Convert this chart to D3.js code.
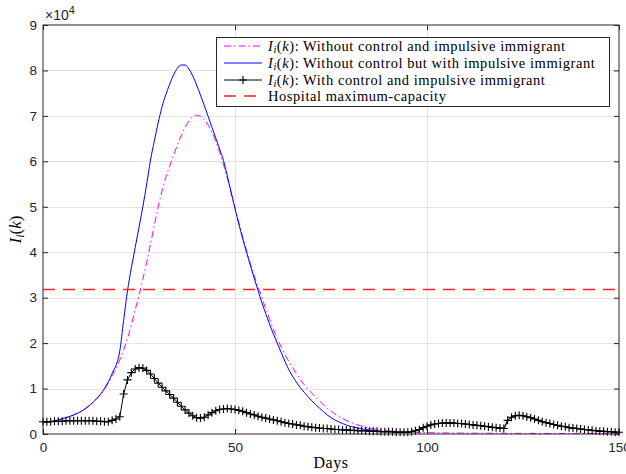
<!DOCTYPE html>
<html>
<head>
<meta charset="utf-8">
<script src="https://cdn.jsdelivr.net/npm/d3@7"></script>
<style>
  body { margin: 0; background: #fff; }
  svg { display: block; }
</style>
</head>
<body>
<svg width="626" height="474"></svg>
<script>
// axis ticks
const xTicks = [0, 50, 100, 150];
const yTicks = [0, 10000, 20000, 30000, 40000, 50000, 60000, 70000, 80000, 90000];

// hospital capacity
const capacity = 31800;

// I_i(k) with control and impulsive immigrant, one value per day 0..150
const controlValues = [
  2700, 2700, 2700, 2800, 2800, 2800, 2900, 2900, 2900, 2900,
  2900, 2900, 2900, 2900, 2800, 2800, 2700, 2700, 3000, 3300,
  3800, 8800, 11900, 13500, 14300, 14600, 14500, 14000, 13200, 12200,
  11200, 10300, 9500, 8700, 7900, 7000, 6100, 5300, 4600, 4000,
  3600, 3500, 3700, 4200, 4700, 5100, 5400, 5500, 5600, 5500,
  5400, 5200, 5000, 4700, 4400, 4200, 3900, 3700, 3500, 3300,
  3100, 2900, 2700, 2500, 2300, 2200, 2000, 1900, 1700, 1600,
  1500, 1400, 1300, 1200, 1200, 1100, 1000, 1000, 900, 900,
  800, 800, 700, 700, 700, 600, 600, 600, 500, 500,
  500, 500, 400, 400, 400, 400, 500, 700, 1000, 1400,
  1700, 2000, 2200, 2300, 2400, 2400, 2400, 2400, 2300, 2300,
  2200, 2100, 2000, 1900, 1800, 1700, 1600, 1500, 1400, 1300,
  1200, 3000, 3700, 4000, 4100, 4000, 3800, 3600, 3300, 3000,
  2700, 2500, 2300, 2100, 1900, 1700, 1600, 1400, 1300, 1200,
  1100, 1000, 900, 800, 700, 600, 600, 500, 500, 400,
  400
];

// I_i(k) without control but with impulsive immigrant
const impulseDays = [
  0, 2, 4, 6, 8, 10, 12, 14, 16, 18, 20, 21, 22, 23, 24, 25, 26, 27, 28, 29,
  30, 31, 32, 33, 34, 35, 36, 37, 38, 39, 40, 41, 42, 43, 44, 45, 46, 47, 48, 49,
  50, 51, 52, 53, 54, 55, 56, 57, 58, 59, 60, 61, 62, 63, 64, 65, 66, 67, 68, 69,
  70, 72, 74, 76, 78, 80, 82, 85, 88, 90, 93, 95, 96, 98, 100, 102, 104, 106, 108, 110,
  112, 114, 116, 118, 120, 121, 122, 124, 126, 128, 130, 132, 134, 136, 138, 140, 143, 146, 150
];
const impulseValues = [
  2500, 2700, 3100, 3600, 4200, 5000, 6200, 7800, 10000, 13300, 18300, 25000, 31500, 36500, 41000, 45500, 50000, 55000, 60300, 64500,
  68500, 72000, 74700, 77000, 79000, 80500, 81200, 81200, 80300, 78800, 76800, 74600, 72300, 69900, 67500, 65100, 62700, 60200, 56800, 53200,
  49600, 46200, 43000, 40000, 37100, 34300, 31600, 28900, 26500, 24200, 22000, 20000, 18000, 16000, 14200, 12700, 11400, 10200, 9200, 8200,
  7300, 5700, 4200, 3100, 2300, 1700, 1300, 900, 600, 500, 400, 400, 500, 1000, 1700, 2200, 2400, 2400, 2300, 2200,
  2000, 1800, 1600, 1400, 1200, 3000, 3700, 4100, 3800, 3300, 2700, 2300, 1900, 1600, 1300, 1100, 800, 600, 400
];

// I_i(k) without control and impulsive immigrant
const noControlDays = [
  0, 2, 4, 6, 8, 10, 12, 14, 16, 17, 18, 19, 20, 21, 22, 23, 24, 25, 26, 27,
  28, 29, 30, 31, 32, 33, 34, 35, 36, 37, 38, 39, 40, 41, 42, 43, 44, 45, 46, 47,
  48, 49, 50, 51, 52, 53, 54, 55, 56, 57, 58, 59, 60, 61, 62, 63, 64, 65, 66, 67,
  68, 69, 70, 72, 74, 76, 78, 80, 82, 85, 88, 90, 93, 96, 100, 110, 120, 150
];
const noControlValues = [
  2500, 2700, 3100, 3600, 4200, 5000, 6200, 7800, 9800, 11200, 12800, 14400, 16300, 18500, 21000, 24000, 27300, 30500, 34000, 37800,
  41800, 46000, 50000, 53500, 56500, 59000, 61300, 63600, 65700, 67500, 68900, 69800, 70100, 69900, 69200, 68000, 66400, 64400, 62000, 59300,
  56300, 53000, 49700, 46500, 43400, 40400, 37500, 34800, 32400, 30000, 27600, 25300, 23100, 21000, 19200, 17500, 16000, 14600, 13300, 12000,
  10900, 9900, 9000, 7300, 5700, 4400, 3400, 2600, 2000, 1300, 900, 700, 500, 400, 300, 200, 150, 100
];

const legendLabels = [
  "Without control and impulsive immigrant",
  "Without control but with impulsive immigrant",
  "With control and impulsive immigrant",
  "Hospital maximum-capacity"
];

const width = 626, height = 474;
const margin = {top: 25, right: 7, bottom: 40, left: 43};
const axisColor = "#262626";

const svg = d3.select("svg");

const x = d3.scaleLinear().domain([0, 150]).range([margin.left, width - margin.right]);
const y = d3.scaleLinear().domain([0, 90000]).range([height - margin.bottom, margin.top]);

// grid
const grid = svg.append("g").attr("class", "grid").attr("stroke", "#e3e3e3").attr("stroke-width", 1);
grid.selectAll(".gh")
  .data(yTicks.slice(1, -1))
  .join("line")
  .attr("class", "gh")
  .attr("x1", x(0)).attr("x2", x(150))
  .attr("y1", d => Math.round(y(d)) + 0.5).attr("y2", d => Math.round(y(d)) + 0.5);
grid.selectAll(".gv")
  .data(xTicks.slice(1, -1))
  .join("line")
  .attr("class", "gv")
  .attr("y1", y(0)).attr("y2", y(90000))
  .attr("x1", d => Math.round(x(d)) + 0.5).attr("x2", d => Math.round(x(d)) + 0.5);

// series
const lineGen = d3.line().x(d => x(d[0])).y(d => y(d[1]));

const noControl = noControlDays.map((d, i) => [d, noControlValues[i]]);
const impulse = impulseDays.map((d, i) => [d, impulseValues[i]]);
const control = controlValues.map((v, i) => [i, v]);

svg.append("path")
  .datum(noControl)
  .attr("fill", "none")
  .attr("stroke", "#ff00ff")
  .attr("stroke-width", 1)
  .attr("stroke-dasharray", "7,3,1.5,3")
  .attr("d", lineGen.curve(d3.curveMonotoneX));

svg.append("path")
  .datum(impulse)
  .attr("fill", "none")
  .attr("stroke", "#0000ff")
  .attr("stroke-width", 1)
  .attr("d", lineGen.curve(d3.curveMonotoneX));

svg.append("path")
  .datum(control)
  .attr("fill", "none")
  .attr("stroke", "#000")
  .attr("stroke-width", 1)
  .attr("d", lineGen.curve(d3.curveLinear));

svg.append("g")
  .attr("stroke", "#000")
  .attr("stroke-width", 1.1)
  .selectAll("path")
  .data(control)
  .join("path")
  .attr("d", d => `M${x(d[0]) - 4},${y(d[1])}h8M${x(d[0])},${y(d[1]) - 4}v8`);

// axes
const fmt = d => d / 10000;
const tickFont = "13.5px 'Liberation Sans', Arial, sans-serif";

const gx = svg.append("g")
  .attr("transform", `translate(0,${y(0)})`)
  .call(d3.axisBottom(x).tickValues(xTicks).tickSizeInner(-5).tickSizeOuter(0).tickPadding(8));
const gy = svg.append("g")
  .attr("transform", `translate(${x(0)},0)`)
  .call(d3.axisLeft(y).tickValues(yTicks).tickFormat(fmt).tickSizeInner(-5).tickSizeOuter(0).tickPadding(6));
const gt = svg.append("g")
  .attr("transform", `translate(0,${y(90000)})`)
  .call(d3.axisTop(x).tickValues(xTicks).tickFormat("").tickSizeInner(-5).tickSizeOuter(0));
const gr = svg.append("g")
  .attr("transform", `translate(${x(150)},0)`)
  .call(d3.axisRight(y).tickValues(yTicks).tickFormat("").tickSizeInner(-5).tickSizeOuter(0));

[gx, gy, gt, gr].forEach(g => {
  g.select(".domain").remove();
  g.selectAll(".tick line").attr("stroke", axisColor);
  g.selectAll(".tick text").style("font", tickFont).attr("fill", axisColor);
});

// hospital capacity line
svg.append("line")
  .attr("x1", x(0)).attr("x2", x(150))
  .attr("y1", y(capacity)).attr("y2", y(capacity))
  .style("stroke", "#ff2020")
  .style("stroke-width", 1.4)
  .style("stroke-dasharray", "12,8");

svg.append("rect")
  .attr("x", x(0)).attr("y", y(90000))
  .attr("width", x(150) - x(0)).attr("height", y(0) - y(90000))
  .attr("fill", "none")
  .attr("stroke", axisColor)
  .attr("stroke-width", 1);

// exponent
const expo = svg.append("text")
  .attr("x", 45).attr("y", 20)
  .attr("fill", axisColor)
  .style("font", "14px 'Liberation Sans', Arial, sans-serif");
expo.append("tspan").text("×10");
expo.append("tspan").attr("dy", -6).style("font-size", "11px").text("4");

// axis labels
const serif = "'Liberation Serif', 'DejaVu Serif', serif";
svg.append("text")
  .attr("x", (x(0) + x(150)) / 2).attr("y", 468)
  .attr("text-anchor", "middle")
  .style("font-family", serif).style("font-size", "16px")
  .style("letter-spacing", "0.5px")
  .text("Days");

const yl = svg.append("text")
  .attr("transform", `translate(21,${(y(0) + y(90000)) / 2}) rotate(-90)`)
  .attr("text-anchor", "middle")
  .style("font-family", serif).style("font-size", "17px");
yl.append("tspan").style("font-style", "italic").text("I");
yl.append("tspan").style("font-style", "italic").style("font-size", "12px").attr("dy", 3).text("i");
yl.append("tspan").attr("dy", -3).text("(");
yl.append("tspan").style("font-style", "italic").text("k");
yl.append("tspan").text(")");

// legend
const legend = svg.append("g");
legend.append("rect")
  .attr("x", 216.5).attr("y", 37.5).attr("width", 393).attr("height", 69)
  .attr("fill", "#fff").attr("stroke", axisColor).attr("stroke-width", 1);

const rowY = [46, 63, 80, 96];
const rowStyle = [
  {color: "#ff00ff", dash: "7,3,1.5,3", marker: false},
  {color: "#0000ff", dash: null, marker: false},
  {color: "#000", dash: null, marker: true},
  {color: "#ff2020", dash: "12,8", marker: false}
];

legendLabels.forEach((label, i) => {
  const ly = rowY[i];
  const s = rowStyle[i];
  legend.append("line")
    .attr("x1", 224).attr("x2", 262).attr("y1", ly).attr("y2", ly)
    .style("stroke", s.color).style("stroke-width", i === 3 ? 1.4 : 1)
    .style("stroke-dasharray", s.dash);
  if (s.marker) {
    legend.append("path")
      .attr("d", `M239,${ly}h8M243,${ly - 4}v8`)
      .attr("stroke", "#000").attr("stroke-width", 1.1);
  }
  const t = legend.append("text")
    .attr("x", 268).attr("y", ly + 4.5)
    .style("font-family", serif).style("font-size", "14.5px")
    .style("letter-spacing", "0.55px");
  if (i < 3) {
    t.append("tspan").style("font-style", "italic").text("I");
    t.append("tspan").style("font-style", "italic").style("font-size", "10.5px").attr("dy", 2.5).text("i");
    t.append("tspan").attr("dy", -2.5).text("(");
    t.append("tspan").style("font-style", "italic").text("k");
    t.append("tspan").text("): " + label);
  } else {
    t.text(label);
  }
});
</script>
</body>
</html>
